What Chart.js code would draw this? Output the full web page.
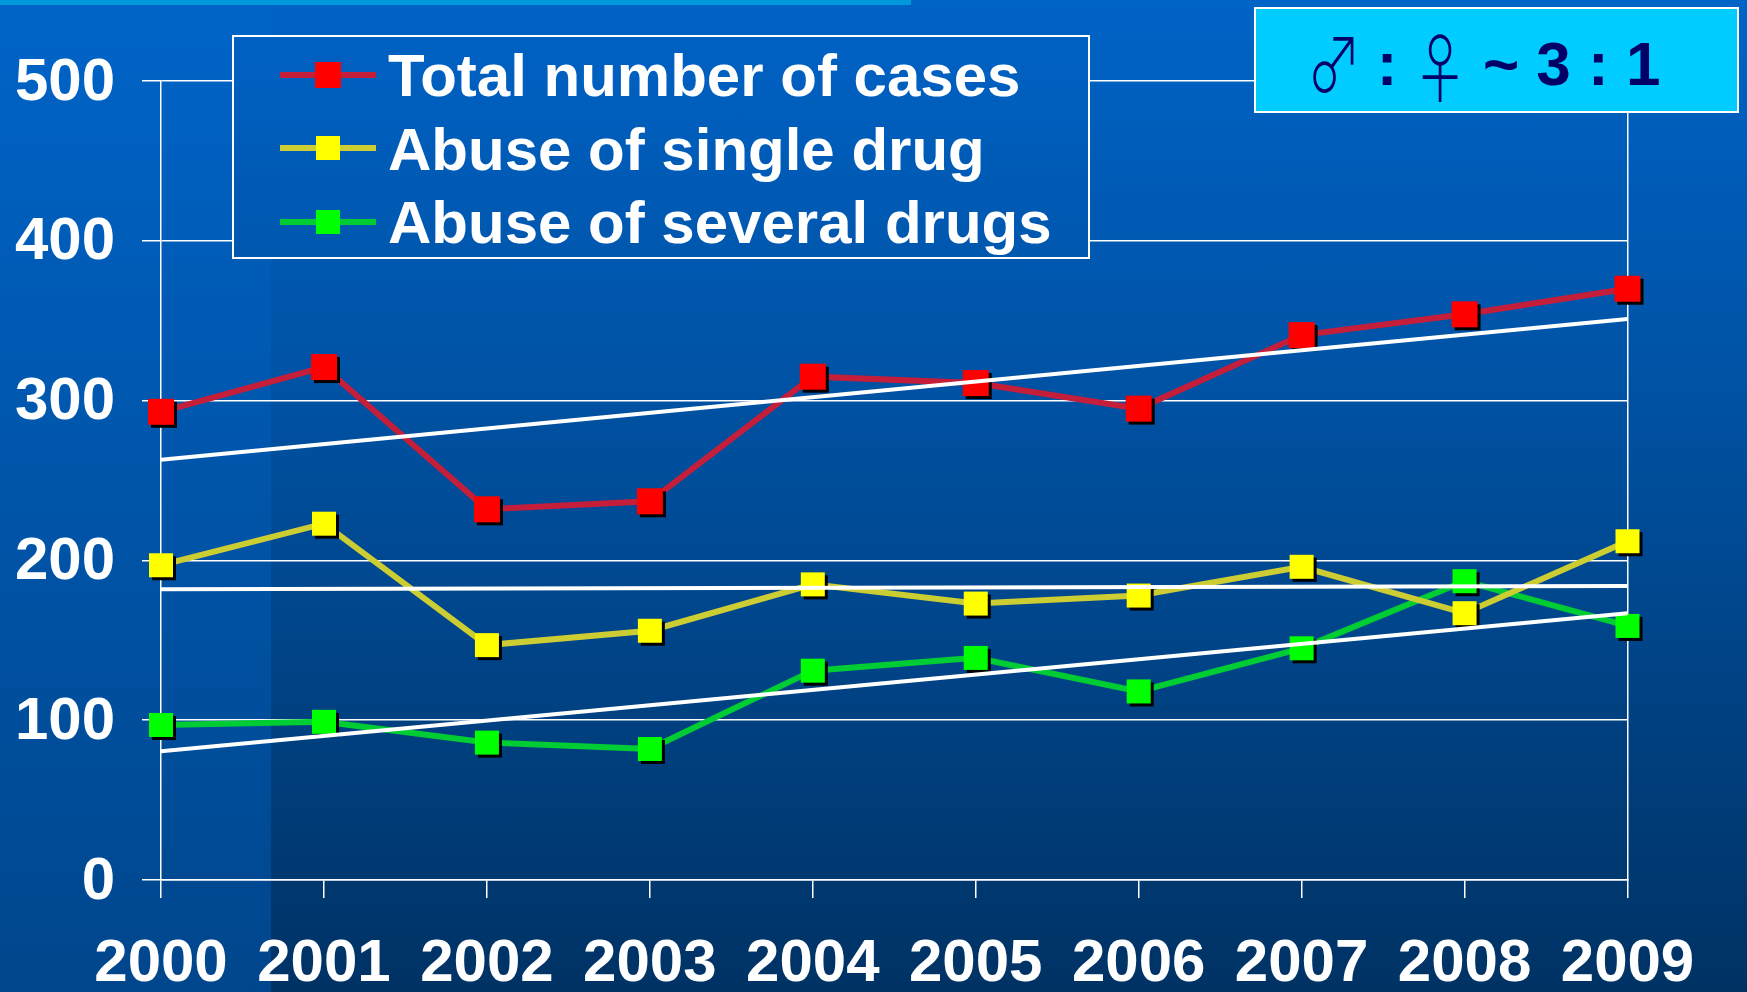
<!DOCTYPE html>
<html>
<head>
<meta charset="utf-8">
<script src="https://cdn.jsdelivr.net/npm/chart.js@4.4.1/dist/chart.umd.min.js"></script>
<style>
html,body{margin:0;padding:0;}
body{width:1747px;height:992px;overflow:hidden;position:relative;
  background:linear-gradient(to bottom,#0063C6 0%,#0054A8 35%,#003264 100%);
  font-family:"Liberation Sans",Arial,sans-serif;}
#strip{position:absolute;left:0;top:0;width:271px;height:992px;
  background:linear-gradient(to bottom,#0064C8 0%,#0059B2 35%,#00468C 100%);}
#topbar{position:absolute;left:0;top:0;width:911px;height:5px;background:#0099DD;}
#c{position:absolute;left:0;top:0;}
#legend{position:absolute;left:232px;top:35px;width:854px;height:220px;border:2px solid #fff;
  background:linear-gradient(to bottom,#0061C3,#0057AE);}
.lrow{position:absolute;left:0;width:854px;height:73.3px;}
.lrow svg{position:absolute;left:46px;top:20.7px;}
.lrow span{position:absolute;left:154px;top:0;line-height:73.3px;font-size:60px;font-weight:bold;color:#fff;white-space:nowrap;}
#ratio{position:absolute;left:1254px;top:7px;width:481px;height:102px;border:2px solid #fff;background:#00CCFF;
  color:#000066;font-weight:bold;font-size:62px;display:flex;align-items:center;justify-content:center;
  box-sizing:content-box;white-space:pre;overflow:hidden;}
#ratio .inner{position:relative;left:-12px;top:-2px;line-height:70px;}
#ratio .sym{display:inline-block;position:relative;font-weight:300;font-family:"Noto Sans CJK JP","DejaVu Sans",sans-serif;
  font-size:76px;line-height:70px;margin:0 -12.5px;transform:scaleX(0.72);}
#ratio .sym.m{top:8px;}
#ratio .sym.f{top:12px;}
</style>
</head>
<body>
<div id="strip"></div>
<div id="topbar"></div>
<canvas id="c" width="1747" height="992"></canvas>
<div id="legend"></div>
<div id="ratio"><span class="inner"></span></div>
<script>
// ---- data ----
const years = ['2000','2001','2002','2003','2004','2005','2006','2007','2008','2009'];
const totalCases   = [293, 321, 232, 237, 315, 311, 295, 341, 354, 370];
const singleDrug   = [197, 223, 147, 156, 185, 173, 178, 196, 167, 212];
const severalDrugs = [97, 99, 86, 82, 131, 139, 118, 145, 187, 159];
// trend lines: value at first year and at last year
const totalTrend   = [263, 351];
const singleTrend  = [182, 184];
const severalTrend = [80.5, 167];
const yTicks = [0, 100, 200, 300, 400, 500];
const seriesLabels = ['Total number of cases', 'Abuse of single drug', 'Abuse of several drugs'];
const ratioParts = [['♂', 'm'], [' : ', ''], ['♀', 'f'], [' ~ 3 : 1', '']];

const FONT = '"Liberation Sans", Arial, sans-serif';
Chart.defaults.font.family = FONT;

function endpoints(pair){
  const d = years.map(() => null);
  d[0] = pair[0]; d[years.length - 1] = pair[1];
  return d;
}
function marker(color, size){
  const pad = 4, off = 3;
  const c = document.createElement('canvas');
  c.width = size + 2*pad; c.height = size + 2*pad;
  const g = c.getContext('2d');
  g.fillStyle = '#000'; g.fillRect(pad+off, pad+off, size, size);
  g.fillStyle = color; g.fillRect(pad, pad, size, size);
  return c;
}
const styles = [
  {line:'#C41E3A', mark:'#FF0000', size:26},
  {line:'#CCCC33', mark:'#FFFF00', size:24},
  {line:'#00CC33', mark:'#00FF00', size:24}
];
const seriesData = [totalCases, singleDrug, severalDrugs];
const trendData = [totalTrend, singleTrend, severalTrend];

const datasets = [];
seriesData.forEach((arr, i) => {
  datasets.push({
    label: seriesLabels[i], data: arr, order: i + 1,
    borderColor: styles[i].line, backgroundColor: styles[i].mark,
    borderWidth: 6, pointStyle: marker(styles[i].mark, styles[i].size),
    pointRadius: 13, pointHoverRadius: 13, tension: 0,
    markerColor: styles[i].mark, markerSize: styles[i].size, isTrend: false
  });
});
trendData.forEach((pair, i) => {
  datasets.push({
    label: seriesLabels[i] + ' trend', data: endpoints(pair), order: 0,
    borderColor: '#FFFFFF', borderWidth: 4, pointRadius: 0, pointHoverRadius: 0,
    spanGaps: true, tension: 0, isTrend: true
  });
});

const tickFont = {size: 60, weight: 'bold', family: FONT};
const chart = new Chart(document.getElementById('c'), {
  type: 'line',
  data: {labels: years, datasets: datasets},
  options: {
    responsive: false, animation: false, devicePixelRatio: 1,
    layout: {padding: {top: 81, right: 119.5, left: 0, bottom: 0}},
    plugins: {legend: {display: false}, tooltip: {enabled: false}},
    events: [],
    scales: {
      x: {
        offset: false,
        grid: {drawOnChartArea: false, drawTicks: true, tickLength: 18, color: '#FFFFFF', lineWidth: 1.5},
        border: {display: true, color: '#FFFFFF', width: 1.5},
        ticks: {color: '#FFFFFF', font: tickFont, padding: 30, maxRotation: 0, minRotation: 0, autoSkip: false},
        afterFit(s){ s.height = 112; }
      },
      y: {
        position: 'left', min: 0, max: 500,
        grid: {color: '#FFFFFF', lineWidth: 1.5, tickLength: 19, drawTicks: true},
        border: {display: true, color: '#FFFFFF', width: 1.5},
        ticks: {color: '#FFFFFF', font: tickFont, padding: 27, labelOffset: 2},
        afterBuildTicks(s){ s.ticks = yTicks.map(v => ({value: v})); },
        afterFit(s){ s.width = 161; }
      },
      yR: {
        position: 'right', min: 0, max: 500,
        grid: {drawOnChartArea: false, drawTicks: false},
        border: {display: true, color: '#FFFFFF', width: 1.5},
        ticks: {display: false},
        afterFit(s){ s.width = 0; }
      }
    }
  }
});

// HTML legend built from the chart datasets
const legend = document.getElementById('legend');
chart.data.datasets.filter(d => !d.isTrend).forEach((d, i) => {
  const row = document.createElement('div');
  row.className = 'lrow';
  row.style.top = (2.4 + i * 73.3) + 'px';
  const s = d.markerSize;
  row.innerHTML =
    '<svg width="96" height="30" viewBox="0 0 96 30">' +
    '<line x1="0" y1="15" x2="96" y2="15" stroke="' + d.borderColor + '" stroke-width="6"/>' +
    '<rect x="' + (48 - s/2) + '" y="' + (15 - s/2) + '" width="' + s + '" height="' + s + '" fill="' + d.markerColor + '"/>' +
    '</svg>';
  const sp = document.createElement('span');
  sp.textContent = d.label;
  row.appendChild(sp);
  legend.appendChild(row);
});

// ratio box
const inner = document.querySelector('#ratio .inner');
ratioParts.forEach(([t, sym]) => {
  const sp = document.createElement('span');
  if (sym) sp.className = 'sym ' + sym;
  sp.textContent = t;
  inner.appendChild(sp);
});
</script>
</body>
</html>
